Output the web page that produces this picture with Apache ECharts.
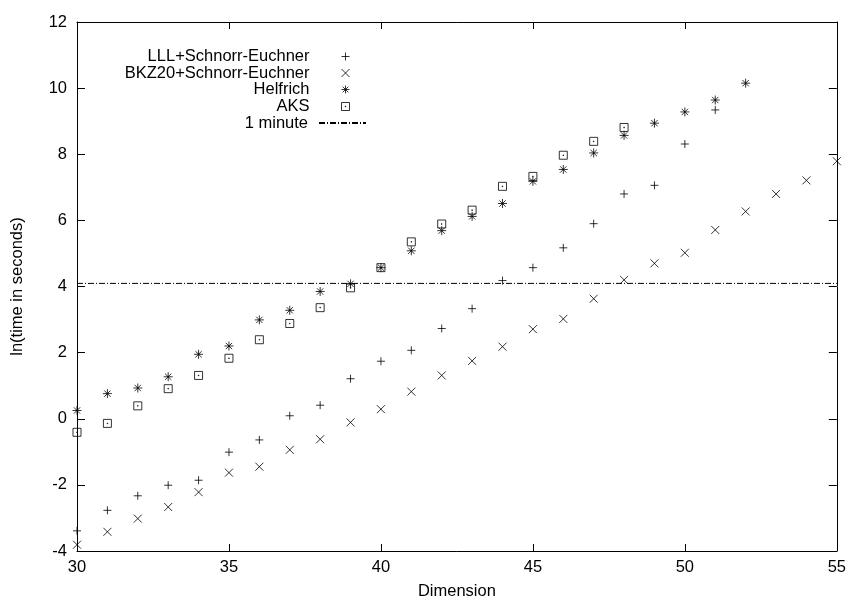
<!DOCTYPE html>
<html>
<head>
<meta charset="utf-8">
<script src="https://cdn.jsdelivr.net/npm/echarts@6/dist/echarts.min.js"></script>
<style>
  html, body { margin: 0; padding: 0; background: #fff; }
  #chart { width: 849px; height: 605px; }
</style>
</head>
<body>
<div id="chart"></div>
<script>
// dimensions 30..55
var dims = [30, 31, 32, 33, 34, 35, 36, 37, 38, 39, 40, 41, 42, 43, 44, 45, 46, 47, 48, 49, 50, 51, 52, 53, 54, 55];

var lll = [-3.39, -2.77, -2.33, -2.01, -1.86, -1.01, -0.64, 0.09, 0.41, 1.21, 1.74, 2.07, 2.73, 3.33,
  4.18, 4.57, 5.17, 5.9, 6.8, 7.06, 8.31, 9.34];
var bkz20 = [-3.81, -3.42, -3.02, -2.67, -2.22, -1.63, -1.45, -0.94, -0.62, -0.11, 0.29, 0.82, 1.31, 1.75,
  2.18, 2.71, 3.02, 3.63, 4.2, 4.7, 5.02, 5.71, 6.27, 6.8, 7.21, 7.79];
var helfrich = [0.25, 0.76, 0.93, 1.27, 1.95, 2.2, 2.99, 3.28, 3.85, 4.08, 4.57, 5.08, 5.69, 6.12,
  6.51, 7.18, 7.54, 8.04, 8.57, 8.94, 9.28, 9.64, 10.15];
var aks = [-0.41, -0.14, 0.39, 0.91, 1.31, 1.83, 2.39, 2.88, 3.36, 3.96, 4.57, 5.35, 5.89, 6.31,
  7.03, 7.33, 7.97, 8.39, 8.81];
var oneMinute = 4.094; // ln(60)

var names = ["LLL+Schnorr-Euchner", "BKZ20+Schnorr-Euchner", "Helfrich", "AKS", "1 minute"];

function pairs(vals) {
  return vals.map(function (v, i) { return [dims[i], v]; });
}

var font = "'Liberation Sans', Arial, Helvetica, sans-serif";
var black = "#000";
var fs = 16.5;

var symPlus = "path://M0,5L10,5M5,0L5,10";
var symCross = "path://M0,0L10,10M10,0L0,10";
var symStar = "path://M0,5L10,5M5,0L5,10M1.5,1.5L8.5,8.5M8.5,1.5L1.5,8.5";
var symBox = "path://M0,0L10,0L10,10L0,10ZM4.6,4.6L5.4,4.6L5.4,5.4L4.6,5.4Z";

var markStyle = { color: "transparent", borderColor: black, borderWidth: 1 };

// one legend per row so texts line up on the right like gnuplot's key
function legendRow(name, top, isLine) {
  return {
    data: [name],
    right: isLine ? 482 : 499,
    top: top,
    padding: 0,
    align: "right",
    itemWidth: isLine ? 47 : 10,
    itemHeight: 8,
    selectedMode: false,
    itemStyle: isLine
      ? { color: "transparent", borderColor: "transparent", borderWidth: 0 }
      : { color: "transparent", borderColor: black, borderWidth: 1 },
    textStyle: {
      color: black, fontSize: fs, fontFamily: font, lineHeight: 17,
      padding: [0, isLine ? 6 : 26, 0, 0],
    },
  };
}

var chart = echarts.init(document.getElementById("chart"));

chart.setOption({
  animation: false,
  backgroundColor: "#fff",
  grid: { left: 77, right: 11, top: 22, bottom: 48 },
  legend: [
    legendRow(names[0], 48),
    legendRow(names[1], 64.5),
    legendRow(names[2], 81),
    legendRow(names[3], 98),
    legendRow(names[4], 114.5, true),
  ],
  xAxis: [
    {
      type: "value",
      min: 30,
      max: 55,
      interval: 5,
      position: "bottom",
      name: "Dimension",
      nameLocation: "middle",
      nameGap: 32,
      nameTextStyle: { color: black, fontSize: fs, fontFamily: font },
      axisLine: { show: true, onZero: false, lineStyle: { color: black, width: 1 } },
      axisTick: { show: true, inside: true, length: 7, lineStyle: { color: black } },
      axisLabel: { color: black, fontSize: fs, fontFamily: font, margin: 8 },
      splitLine: { show: false },
    },
    {
      type: "value",
      min: 30,
      max: 55,
      interval: 5,
      position: "top",
      axisLine: { show: true, onZero: false, lineStyle: { color: black, width: 1 } },
      axisTick: { show: true, inside: true, length: 7, lineStyle: { color: black } },
      axisLabel: { show: false },
      splitLine: { show: false },
    },
  ],
  yAxis: [
    {
      type: "value",
      min: -4,
      max: 12,
      interval: 2,
      position: "left",
      name: "ln(time in seconds)",
      nameLocation: "middle",
      nameGap: 51,
      nameTextStyle: { color: black, fontSize: fs, fontFamily: font },
      axisLine: { show: true, onZero: false, lineStyle: { color: black, width: 1 } },
      axisTick: { show: true, inside: true, length: 8, lineStyle: { color: black } },
      axisLabel: { color: black, fontSize: fs, fontFamily: font, margin: 10 },
      splitLine: { show: false },
    },
    {
      type: "value",
      min: -4,
      max: 12,
      interval: 2,
      position: "right",
      axisLine: { show: true, onZero: false, lineStyle: { color: black, width: 1 } },
      axisTick: { show: true, inside: true, length: 8, lineStyle: { color: black } },
      axisLabel: { show: false },
      splitLine: { show: false },
    },
  ],
  series: [
    {
      name: names[0],
      type: "scatter",
      symbol: symPlus,
      symbolSize: 8,
      itemStyle: markStyle,
      data: pairs(lll),
    },
    {
      name: names[1],
      type: "scatter",
      symbol: symCross,
      symbolSize: 8,
      itemStyle: markStyle,
      data: pairs(bkz20),
    },
    {
      name: names[2],
      type: "scatter",
      symbol: symStar,
      symbolSize: 9,
      itemStyle: markStyle,
      data: pairs(helfrich),
    },
    {
      name: names[3],
      type: "scatter",
      symbol: symBox,
      symbolSize: 8,
      itemStyle: markStyle,
      data: pairs(aks),
    },
    {
      name: names[4],
      type: "line",
      symbol: "none",
      lineStyle: { color: black, width: 1, type: [6, 2, 1, 2] },
      itemStyle: { color: black },
      data: [[dims[0], oneMinute], [dims[dims.length - 1], oneMinute]],
    },
  ],
});
</script>
</body>
</html>
